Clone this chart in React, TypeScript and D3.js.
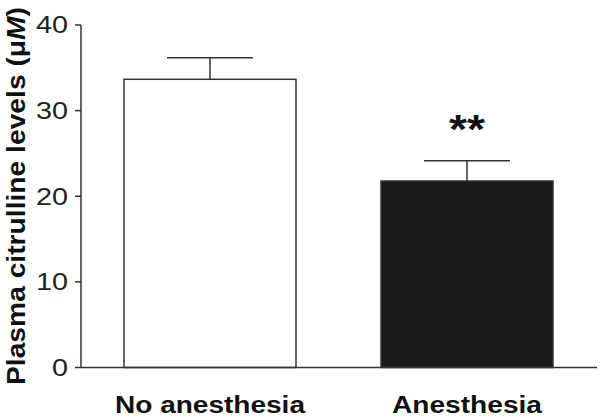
import React from "react";
import * as d3 from "d3";

const categories = ["No anesthesia", "Anesthesia"];
const means = [33.66, 21.78];
const errors = [2.52, 2.37];
const fills = ["#ffffff", "#1a1a1a"];
const yTicks = [0, 10, 20, 30, 40];
const significance = ["", "**"];

const W = 600;
const H = 418;

export default function App() {
  const x = d3
    .scaleBand<string>()
    .domain(categories)
    .range([81, 596])
    .paddingInner(0.3307)
    .paddingOuter(0.1673);
  const y = d3.scaleLinear().domain([0, 40]).range([367.5, 25]);
  const bw = x.bandwidth();
  const font = "'Liberation Sans', Arial, sans-serif";
  const axisColor = "#333";

  return (
    <svg
      width={W}
      height={H}
      style={{ position: "absolute", left: 0, top: 0, background: "#fff" }}
      fontFamily={font}
    >
      {/* bars */}
      {categories.map((c, i) => {
        const x0 = x(c)!;
        const cx = x0 + bw / 2;
        const top = y(means[i]);
        const eTop = y(means[i] + errors[i]);
        return (
          <g key={c}>
            <line x1={cx} x2={cx} y1={top} y2={eTop} stroke={axisColor} strokeWidth={1.5} />
            <line
              x1={cx - bw / 4}
              x2={cx + bw / 4}
              y1={eTop}
              y2={eTop}
              stroke={axisColor}
              strokeWidth={1.5}
            />
            <rect
              x={x0}
              y={top}
              width={bw}
              height={y(0) - top}
              fill={fills[i]}
              stroke={axisColor}
              strokeWidth={1.5}
            />
            {significance[i] && (
              <text
                x={cx}
                y={eTop - 17.5}
                textAnchor="middle"
                fontSize={40}
                fontWeight="bold"
                fill="#111"
                textLength={36}
                lengthAdjust="spacingAndGlyphs"
              >
                {significance[i]}
              </text>
            )}
            <text
              x={cx}
              y={413}
              textAnchor="middle"
              fontSize={23}
              fontWeight="bold"
              fill="#111"
              textLength={i === 0 ? 190 : 150}
              lengthAdjust="spacingAndGlyphs"
            >
              {c}
            </text>
          </g>
        );
      })}

      {/* y axis */}
      <line x1={81} x2={81} y1={y(40)} y2={y(0)} stroke={axisColor} strokeWidth={1.5} />
      <line x1={81} x2={597} y1={y(0)} y2={y(0)} stroke={axisColor} strokeWidth={1.5} />
      {yTicks.map((t) => (
        <g key={t}>
          <line x1={75} x2={81} y1={y(t)} y2={y(t)} stroke={axisColor} strokeWidth={1.5} />
          <text
            x={68}
            y={y(t)}
            dy="0.36em"
            textAnchor="end"
            fontSize={23.5}
            fill="#222"
            textLength={String(t).length * 16}
            lengthAdjust="spacingAndGlyphs"
          >
            {t}
          </text>
        </g>
      ))}

      {/* y title */}
      <text
        transform={`translate(25, 196) rotate(-90)`}
        textAnchor="middle"
        fontSize={26.5}
        fontWeight="bold"
        fill="#111"
        textLength={378}
        lengthAdjust="spacingAndGlyphs"
      >
        Plasma citrulline levels (μ<tspan fontStyle="italic">M</tspan>)
      </text>
    </svg>
  );
}
